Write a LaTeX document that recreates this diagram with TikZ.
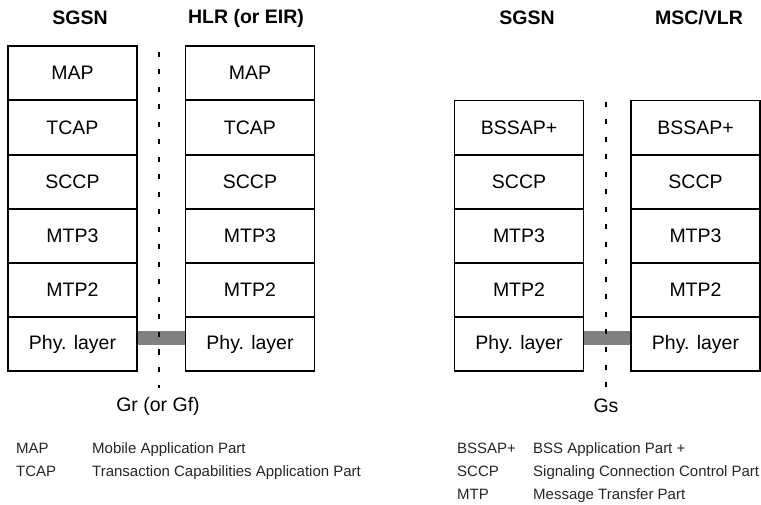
\documentclass[tikz,border=0pt]{standalone}
\usepackage{fontspec}
\setmainfont{Liberation Sans}
\begin{document}
\begin{tikzpicture}[x=1pt,y=-1pt,
  layer/.style={draw, line width=1.7pt, fill=white, minimum width=129pt, minimum height=54.2pt, inner sep=0pt, font=\fontsize{19.5}{22}\selectfont},
  ttl/.style={font=\fontsize{19.5}{22}\selectfont\bfseries},
  iflabel/.style={font=\fontsize{19.5}{22}\selectfont},
  abbr/.style={anchor=west, text height=11pt, text depth=3.5pt, inner sep=0pt, font=\fontsize{15}{17}\selectfont, text=black!85},
  ifline/.style={line width=2.6pt, dash pattern=on 5pt off 12.5pt},
  phybar/.style={line width=13pt, draw=black!50}]
\useasboundingbox (0,0) rectangle (761,505);
% titles
\node[ttl] (t1) at (80,18) {SGSN};
\node[ttl] (t2) at (246,18) {HLR (or EIR)};
\node[ttl] (t3) at (527,18) {SGSN};
\node[ttl] (t4) at (699,18) {MSC/VLR};
% stack 1
\node[layer] (a1) at (72.5,73) {MAP};
\node[layer] (a2) at (72.5,127.5) {TCAP};
\node[layer] (a3) at (72.5,182) {SCCP};
\node[layer] (a4) at (72.5,236) {MTP3};
\node[layer] (a5) at (72.5,290) {MTP2};
\node[layer] (a6) at (72.5,344) {Phy. layer};
% stack 2
\node[layer] (b1) at (250,73) {MAP};
\node[layer] (b2) at (250,127.5) {TCAP};
\node[layer] (b3) at (250,182) {SCCP};
\node[layer] (b4) at (250,236) {MTP3};
\node[layer] (b5) at (250,290) {MTP2};
\node[layer] (b6) at (250,344) {Phy. layer};
% stack 3
\node[layer] (c1) at (519,127.5) {BSSAP+};
\node[layer] (c2) at (519,182) {SCCP};
\node[layer] (c3) at (519,236) {MTP3};
\node[layer] (c4) at (519,290) {MTP2};
\node[layer] (c5) at (519,344) {Phy. layer};
% stack 4
\node[layer] (d1) at (695.5,127.5) {BSSAP+};
\node[layer] (d2) at (695.5,182) {SCCP};
\node[layer] (d3) at (695.5,236) {MTP3};
\node[layer] (d4) at (695.5,290) {MTP2};
\node[layer] (d5) at (695.5,344) {Phy. layer};
% physical links
\draw[phybar] ([yshift=6pt]a6.east) -- ([yshift=6pt]b6.west);
\draw[phybar] ([yshift=6pt]c5.east) -- ([yshift=6pt]d5.west);
% interface lines
\coordinate (g1top) at (159,52);
\coordinate (g1bot) at (159,388);
\coordinate (g2top) at (606,102);
\coordinate (g2bot) at (606,388);
\draw[ifline] (g1top) -- (g1bot);
\draw[ifline] (g2top) -- (g2bot);
\node[iflabel] (gr) at (158,406) {Gr (or Gf)};
\node[iflabel] (gs) at (606,406) {Gs};
% legend left
\node[abbr] (l1a) at (16,450) {MAP};
\node[abbr] (l1b) at (92,450) {Mobile Application Part};
\node[abbr] (l2a) at (16,473) {TCAP};
\node[abbr] (l2b) at (92,473) {Transaction Capabilities Application Part};
% legend right
\node[abbr] (r1a) at (457,450) {BSSAP+};
\node[abbr] (r1b) at (533,450) {BSS Application Part +};
\node[abbr] (r2a) at (457,473) {SCCP};
\node[abbr] (r2b) at (533,473) {Signaling Connection Control Part};
\node[abbr] (r3a) at (457,496) {MTP};
\node[abbr] (r3b) at (533,496) {Message Transfer Part};
\end{tikzpicture}
\end{document}
